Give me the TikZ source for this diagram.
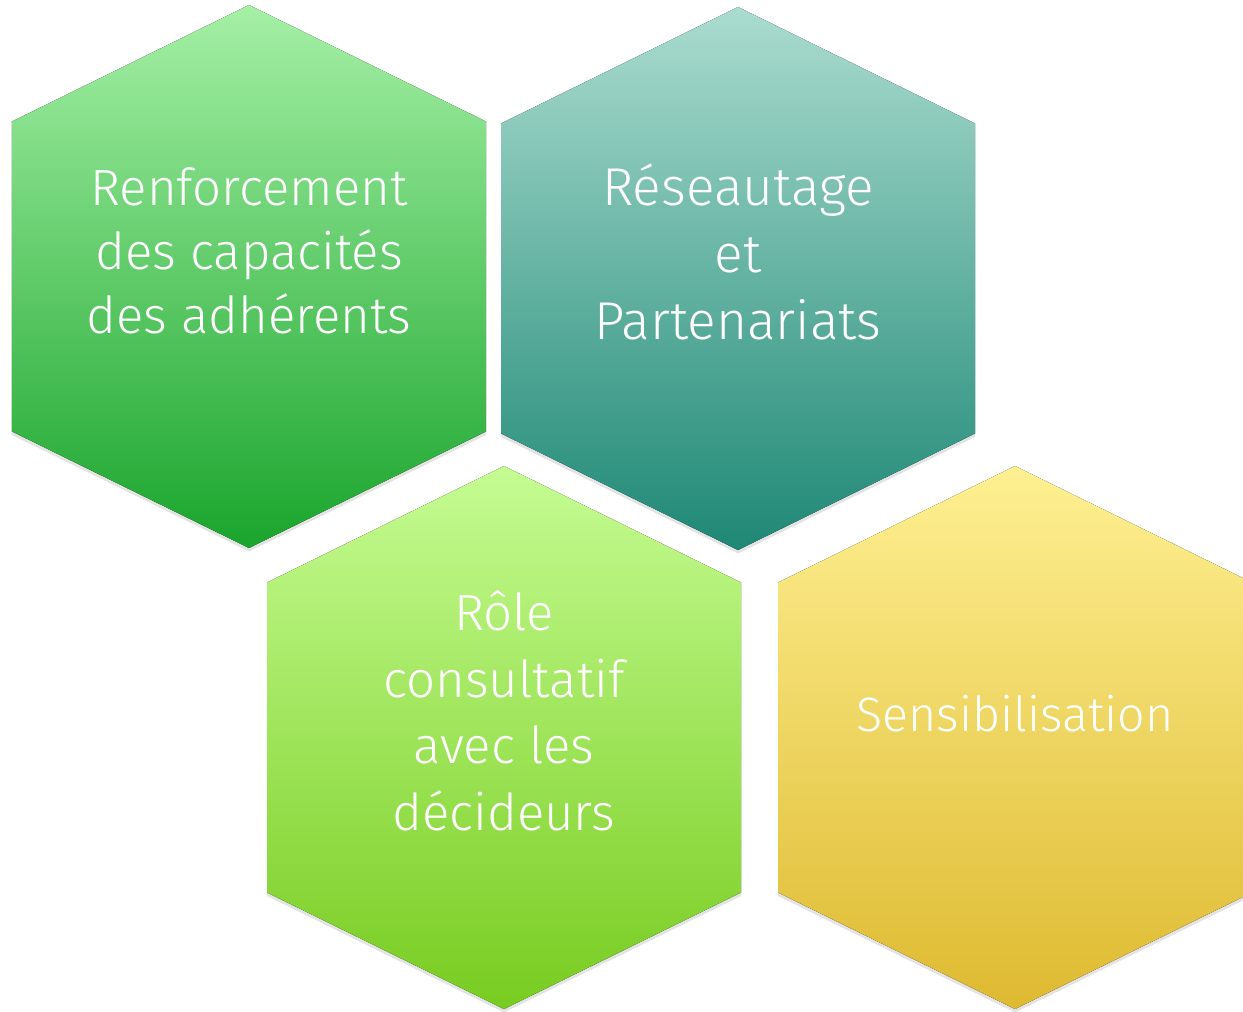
\documentclass[tikz,border=0pt]{standalone}
\usepackage{fontspec}
\setsansfont{Fira Sans Light}
\usepackage{xcolor}
\usetikzlibrary{shadows}

% couleurs des hexagones (haut / bas)
\definecolor{renfHaut}{RGB}{165,240,165}
\definecolor{renfBas}{RGB}{26,165,45}
\definecolor{reseauHaut}{RGB}{170,220,207}
\definecolor{reseauBas}{RGB}{30,136,117}
\definecolor{roleHaut}{RGB}{197,252,147}
\definecolor{roleBas}{RGB}{120,204,32}
\definecolor{sensiHaut}{RGB}{254,240,146}
\definecolor{sensiBas}{RGB}{222,186,48}

\tikzset{
  hexombre/.style={drop shadow={opacity=0.22, shadow xshift=0pt, shadow yshift=-0.07cm}},
  hextexte/.style={text=white, align=center, font=\sffamily\fontsize{29}{36.5}\selectfont}
}

% hexagone : #1 centre, #2 couleur haut, #3 couleur bas
\newcommand{\hexagone}[3]{%
  \fill[top color=#2, bottom color=#3, hexombre, shift={#1}]
    (0,5.43) -- (4.74,3.10) -- (4.74,-3.10) -- (0,-5.43) -- (-4.74,-3.10) -- (-4.74,3.10) -- cycle;
}

\begin{document}
\begin{tikzpicture}

\useasboundingbox (0,0) rectangle (24.86,20.22);

% Hexagones
\hexagone{(4.98,14.69)}{renfHaut}{renfBas}
\hexagone{(14.76,14.65)}{reseauHaut}{reseauBas}
\hexagone{(10.08,5.47)}{roleHaut}{roleBas}
\hexagone{(20.30,5.47)}{sensiHaut}{sensiBas}

% Textes
\node[hextexte] (renf) at (4.98,15.20) {Renforcement\\des capacités\\des adhérents};
\node[hextexte, font=\sffamily\fontsize{30.3}{38}\selectfont] (reseau) at (14.76,15.18) {Réseautage\\et\\Partenariats};
\node[hextexte, font=\sffamily\fontsize{29}{38}\selectfont] (role) at (10.08,6.00) {Rôle\\consultatif\\avec les\\décideurs};
\node[hextexte, font=\sffamily\fontsize{27.5}{36}\selectfont] (sensi) at (20.30,5.94) {Sensibilisation};

\end{tikzpicture}
\end{document}
